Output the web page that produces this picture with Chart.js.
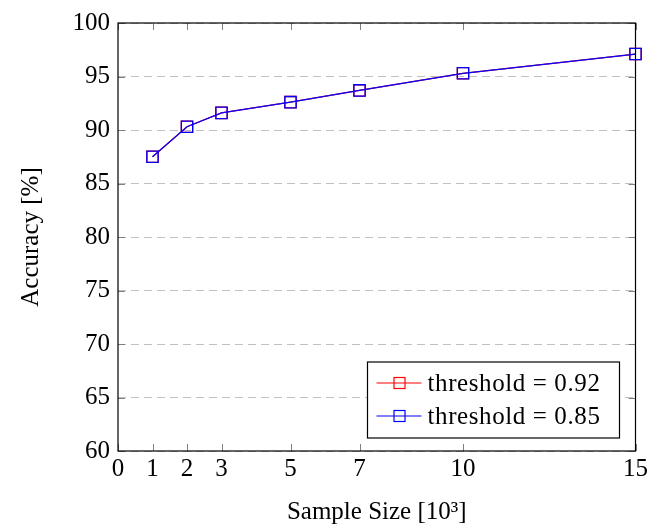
<!DOCTYPE html>
<html>
<head>
<meta charset="utf-8">
<script src="https://cdn.jsdelivr.net/npm/chart.js@4"></script>
<style>
  body{ margin:0; background:#fff; }
  #wrap{ width:651px; height:527px; }
</style>
</head>
<body>
<div id="wrap"><canvas id="c"></canvas></div>
<script>
/* ------- DATA ------- */
const xTicks = [0,1,2,3,5,7,10,15];
const sampleSizes = [1,2,3,5,7,10,15];
const acc092 = [87.5, 90.3, 91.6, 92.6, 93.7, 95.3, 97.1];
const acc085 = [87.5, 90.3, 91.6, 92.6, 93.7, 95.3, 97.1];
const seriesLabels = ["threshold = 0.92", "threshold = 0.85"];

const FONT = "Liberation Serif";
const FSIZE = 25;

/* ------- FRAME + INWARD TICKS + LEGEND ------- */
const framePlugin = {
  id: "frame",
  afterDatasetsDraw(chart){
    const ctx = chart.ctx;
    const a = chart.chartArea;
    const xs = chart.scales.x, ys = chart.scales.y;
    ctx.save();

    // inward tick marks
    ctx.strokeStyle = "#808080";
    ctx.lineWidth = 1;
    ctx.beginPath();
    xs.ticks.forEach(t=>{
      const px = Math.round(xs.getPixelForValue(t.value)) + 0.5;
      ctx.moveTo(px, a.bottom); ctx.lineTo(px, a.bottom - 7);
      ctx.moveTo(px, a.top); ctx.lineTo(px, a.top + 7);
    });
    ys.ticks.forEach(t=>{
      const py = Math.round(ys.getPixelForValue(t.value)) + 0.5;
      ctx.moveTo(a.left, py); ctx.lineTo(a.left + 7, py);
      ctx.moveTo(a.right, py); ctx.lineTo(a.right - 7, py);
    });
    ctx.stroke();

    // frame
    ctx.strokeStyle = "#000";
    ctx.lineWidth = 1.2;
    ctx.strokeRect(a.left, a.top, a.right - a.left, a.bottom - a.top);

    // legend box
    const bw = 252, bh = 76;
    const bx = a.right - 16 - bw, by = a.bottom - 13 - bh;
    ctx.fillStyle = "#fff";
    ctx.fillRect(bx, by, bw, bh);
    ctx.strokeStyle = "#000";
    ctx.lineWidth = 1.2;
    ctx.strokeRect(bx, by, bw, bh);

    chart.data.datasets.forEach((ds, i)=>{
      const ry = by + 21 + i * 33;
      ctx.strokeStyle = ds.borderColor;
      ctx.lineWidth = 1.2;
      ctx.beginPath();
      ctx.moveTo(bx + 9, ry); ctx.lineTo(bx + 54, ry);
      ctx.stroke();
      ctx.strokeRect(bx + 26.5, ry - 5.5, 11, 11);
      ctx.fillStyle = "#000";
      ctx.font = FSIZE + "px '" + FONT + "'";
      ctx.textBaseline = "middle";
      ctx.textAlign = "left";
      ctx.letterSpacing = "0.6px";
      ctx.fillText(ds.label, bx + 60, ry + 1);
    });

    ctx.restore();
  }
};

/* ------- CHART ------- */
const toPts = arr => sampleSizes.map((s, i)=>({ x:s, y:arr[i] }));

new Chart(document.getElementById("c"), {
  type: "line",
  data: {
    datasets: [
      { label: seriesLabels[0], data: toPts(acc092), borderColor: "#ff0000",
        pointBorderColor: "#ff0000", order: 1 },
      { label: seriesLabels[1], data: toPts(acc085), borderColor: "#0000ff",
        pointBorderColor: "#0000ff", order: 0 }
    ]
  },
  options: {
    responsive: true,
    maintainAspectRatio: false,
    animation: false,
    layout: { padding: { left: 0, top: 21, right: 15, bottom: 0 } },
    elements: {
      line: { borderWidth: 1.2, tension: 0, fill: false },
      point: { pointStyle: "rect", radius: 8, borderWidth: 1.3,
               backgroundColor: "rgba(0,0,0,0)", hoverRadius: 8 }
    },
    datasets: { line: { clip: false } },
    plugins: { legend: { display: false }, tooltip: { enabled: false } },
    scales: {
      x: {
        type: "linear", min: 0, max: 15,
        afterBuildTicks: s => { s.ticks = xTicks.map(v=>({ value: v })); },
        afterFit: s => { s.height = 76; },
        grid: { display: false, drawTicks: false },
        border: { display: false },
        ticks: { color: "#000", padding: 3, maxRotation: 0, autoSkip: false,
                 font: { family: FONT, size: FSIZE } },
        title: { display: true, text: "Sample Size [10³]", color: "#000",
                 padding: { top: 0, bottom: 0 }, font: { family: FONT, size: FSIZE } }
      },
      y: {
        min: 60, max: 100,
        afterFit: s => { s.width = 118; },
        grid: { color: "#c0c0c0", lineWidth: 1, drawTicks: false },
        border: { display: false, dash: [8,5] },
        ticks: { stepSize: 5, color: "#000", padding: 8,
                 font: { family: FONT, size: FSIZE } },
        title: { display: true, text: "Accuracy [%]", color: "#000",
                 padding: { top: 16, bottom: 0 }, font: { family: FONT, size: FSIZE } }
      }
    }
  },
  plugins: [framePlugin]
});
</script>
</body>
</html>
